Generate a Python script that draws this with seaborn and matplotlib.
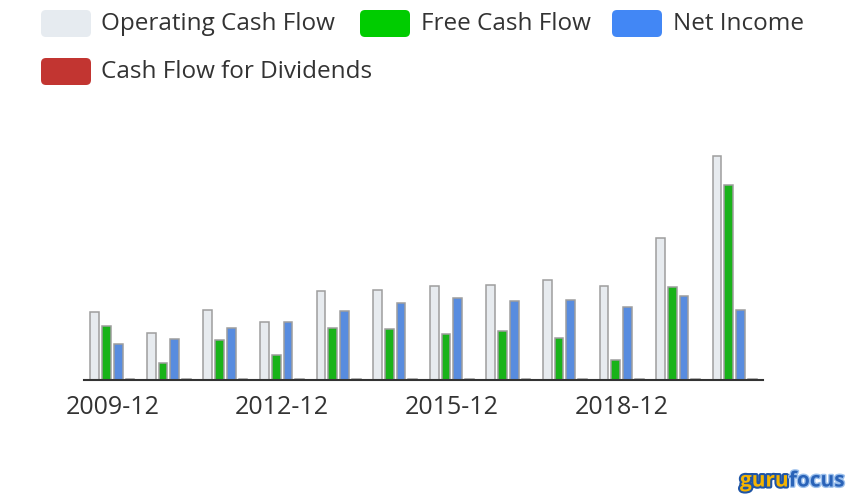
import matplotlib
matplotlib.use("Agg")
import matplotlib.pyplot as plt
from matplotlib.patches import FancyBboxPatch
import matplotlib.patheffects as pe
import seaborn as sns
import pandas as pd

years = ["2009-12", "2010-12", "2011-12", "2012-12", "2013-12", "2014-12",
         "2015-12", "2016-12", "2017-12", "2018-12", "2019-12", "2020-12"]
operating_cash_flow = [68, 47, 70, 58, 89, 90, 94, 95, 100, 94, 142, 224]
free_cash_flow = [54, 17, 40, 25, 52, 51, 46, 49, 42, 20, 93, 195]
net_income = [36, 41, 52, 58, 69, 77, 82, 79, 80, 73, 84, 70]
cash_flow_for_dividends = [1, 1, 1, 1, 1, 1, 1, 1, 1, 1, 1, 1]
series_names = ["Operating Cash Flow", "Free Cash Flow", "Net Income", "Cash Flow for Dividends"]
series_colors = ["#e6ebf0", "#00cc00", "#4287f5", "#c23531"]
shown_labels = ["2009-12", "2012-12", "2015-12", "2018-12"]

rows = []
for name, vals in zip(series_names, [operating_cash_flow, free_cash_flow, net_income, cash_flow_for_dividends]):
    for y, v in zip(years, vals):
        rows.append({"year": y, "series": name, "value": v})
df = pd.DataFrame(rows)

sns.set_theme(style="white")
plt.rcParams["font.family"] = ["Open Sans", "DejaVu Sans"]

W, H = 847, 500
fig = plt.figure(figsize=(W / 100, H / 100), dpi=100)
ax = fig.add_axes([84 / W, 1 - 380 / H, (763 - 84) / W, 250 / H])

sns.barplot(data=df, x="year", y="value", hue="series", order=years, hue_order=series_names,
            palette=series_colors, width=0.83, gap=0.25, errorbar=None,
            edgecolor="#9e9e9e", linewidth=1.1, legend=False, ax=ax)

ax.set_xlim(-0.5, len(years) - 0.5)
ax.set_ylim(0, 250)
ax.set_xlabel("")
ax.set_ylabel("")
ax.set_yticks([])
for s in ["top", "right", "left"]:
    ax.spines[s].set_visible(False)
ax.spines["bottom"].set_color("#333333")
ax.spines["bottom"].set_linewidth(1.5)

ax.set_xticks([years.index(l) for l in shown_labels])
ax.set_xticklabels(shown_labels)
ax.tick_params(axis="x", which="major", length=0, pad=11, labelsize=18, labelcolor="#333333")
ax.set_xticks([1.5, 4.5, 7.5, 10.5], minor=True)
ax.tick_params(axis="x", which="minor", length=6, width=1.5, color="#333333", direction="out")

# legend (flow layout like the original)
items = [
    (41, 10, 101, 0),
    (360, 10, 421, 1),
    (612, 10, 673, 2),
    (41, 58, 101, 3),
]
for bx, by, tx, i in items:
    patch = FancyBboxPatch(((bx) / 100, (H - by - 27) / 100), 50 / 100, 27 / 100,
                           boxstyle="round,pad=0,rounding_size=0.05",
                           transform=fig.dpi_scale_trans, facecolor=series_colors[i],
                           edgecolor="none")
    fig.add_artist(patch)
    fig.text(tx / W, 1 - (by + 13.5) / H, series_names[i], fontsize=17.5, color="#333333",
             ha="left", va="center")

# watermark logo
t1 = fig.text(740 / W, 1 - 481 / H, "guru", fontsize=15, fontweight="bold", color="#f5b400",
              ha="left", va="center")
t1.set_path_effects([pe.withStroke(linewidth=3, foreground="#1f55a6")])
fig.canvas.draw()
bb = t1.get_window_extent()
t2 = fig.text(bb.x1 / W, 1 - 481 / H, "focus", fontsize=15, fontweight="bold", color="#2a63b8",
              ha="left", va="center")
t2.set_path_effects([pe.withStroke(linewidth=2, foreground="#9cc0ec")])

fig.savefig("out.png", dpi=100)
